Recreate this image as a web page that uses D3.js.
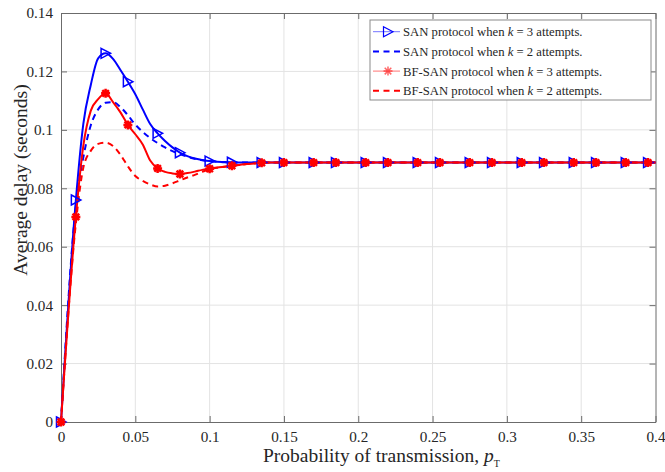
<!DOCTYPE html>
<html lang="en">
<head>
    <meta charset="UTF-8">
    <title>Average delay</title>
    <script src="https://d3js.org/d3.v7.min.js"></script>
    <style>
        body { margin: 0; background: #fff; }
        text { font-family: "Liberation Serif", "Times New Roman", serif; fill: #262626; }
        .grid line { stroke: #e3e3e3; stroke-width: 1px; }
        .axis path, .axis line { stroke: #6b6b6b; }
    </style>
</head>
<body>
<script>

    // x values (probability of transmission)
    var pT = [0, 0.01, 0.015, 0.02, 0.025, 0.03, 0.035, 0.04, 0.045, 0.05,
        0.055, 0.06, 0.065, 0.07, 0.075, 0.08, 0.085, 0.09, 0.095, 0.1,
        0.105, 0.11, 0.115, 0.12, 0.125, 0.13, 0.135, 0.14, 0.145, 0.15,
        0.17, 0.185, 0.205, 0.22, 0.24, 0.255, 0.275, 0.29, 0.31, 0.325,
        0.345, 0.36, 0.38, 0.395, 0.4];

    // SAN protocol, k = 3
    var sanK3 = [0, 0.076, 0.102, 0.1153, 0.1245, 0.1262, 0.1243, 0.1205, 0.1165, 0.1122,
        0.1070, 0.1020, 0.0988, 0.0962, 0.0940, 0.0922, 0.0910, 0.0902, 0.0897, 0.0893,
        0.0891, 0.0890, 0.0889, 0.0888, 0.0888, 0.0888, 0.0888, 0.0888, 0.0888, 0.0888,
        0.0888, 0.0888, 0.0888, 0.0888, 0.0888, 0.0888, 0.0888, 0.0888, 0.0888, 0.0888,
        0.0888, 0.0888, 0.0888, 0.0888, 0.0888];

    // SAN protocol, k = 2
    var sanK2 = [0, 0.074, 0.0905, 0.1015, 0.1070, 0.1093, 0.1095, 0.1078, 0.1050, 0.1018,
        0.0993, 0.0972, 0.0955, 0.0940, 0.0927, 0.0917, 0.0908, 0.0901, 0.0896, 0.0893,
        0.0891, 0.0889, 0.0888, 0.0888, 0.0888, 0.0888, 0.0888, 0.0888, 0.0888, 0.0888,
        0.0888, 0.0888, 0.0888, 0.0888, 0.0888, 0.0888, 0.0888, 0.0888, 0.0888, 0.0888,
        0.0888, 0.0888, 0.0888, 0.0888, 0.0888];

    // BF-SAN protocol, k = 3
    var bfK3 = [0, 0.0702, 0.0945, 0.1065, 0.1105, 0.1125, 0.1095, 0.1060, 0.1017, 0.0985,
        0.0950, 0.0895, 0.0868, 0.0856, 0.0851, 0.0849, 0.0852, 0.0857, 0.0863, 0.0867,
        0.0871, 0.0874, 0.0877, 0.0880, 0.0883, 0.0885, 0.0887, 0.0888, 0.0888, 0.0888,
        0.0888, 0.0888, 0.0888, 0.0888, 0.0888, 0.0888, 0.0888, 0.0888, 0.0888, 0.0888,
        0.0888, 0.0888, 0.0888, 0.0888, 0.0888];

    // BF-SAN protocol, k = 2
    var bfK2 = [0, 0.068, 0.0870, 0.0928, 0.0952, 0.0956, 0.0945, 0.0915, 0.0875, 0.0842,
        0.0825, 0.0813, 0.0806, 0.0809, 0.0817, 0.0827, 0.0837, 0.0846, 0.0856, 0.0865,
        0.0870, 0.0874, 0.0877, 0.0880, 0.0883, 0.0885, 0.0887, 0.0888, 0.0888, 0.0888,
        0.0888, 0.0888, 0.0888, 0.0888, 0.0888, 0.0888, 0.0888, 0.0888, 0.0888, 0.0888,
        0.0888, 0.0888, 0.0888, 0.0888, 0.0888];

    // where the markers sit
    var markerPT = [0, 0.01, 0.03, 0.045, 0.065, 0.08, 0.1, 0.115, 0.135, 0.15,
        0.17, 0.185, 0.205, 0.22, 0.24, 0.255, 0.275, 0.29, 0.31, 0.325,
        0.345, 0.36, 0.38, 0.395];

    var xTicks = [0, 0.05, 0.1, 0.15, 0.2, 0.25, 0.3, 0.35, 0.4];
    var yTicks = [0, 0.02, 0.04, 0.06, 0.08, 0.1, 0.12, 0.14];

    var legendLabels = ["SAN protocol when ", "SAN protocol when ",
        "BF-SAN protocol when ", "BF-SAN protocol when "];
    var legendK = ["3", "2", "3", "2"];

    var series = [
        {vals: sanK3, color: "#0000ff", dash: null, marker: "tri"},
        {vals: sanK2, color: "#0000ff", dash: "6,4.5", marker: null},
        {vals: bfK3, color: "#ff0000", dash: null, marker: "star"},
        {vals: bfK2, color: "#ff0000", dash: "6,4.5", marker: null}
    ];

    var W = 665, H = 472;
    var margin = {top: 13, right: 9.5, bottom: 50, left: 61},
        width = W - margin.left - margin.right,
        height = H - margin.top - margin.bottom;

    var x = d3.scaleLinear().domain([0, 0.4]).range([0, width]);
    var y = d3.scaleLinear().domain([0, 0.14]).range([height, 0]);

    var svg = d3.select("body").append("svg")
        .attr("width", W).attr("height", H);
    var g = svg.append("g")
        .attr("transform", "translate(" + margin.left + "," + margin.top + ")");

    // grid
    var grid = g.append("g").attr("class", "grid");
    grid.selectAll(".gx").data(xTicks.slice(1, -1)).enter().append("line")
        .attr("x1", function(d) { return x(d); }).attr("x2", function(d) { return x(d); })
        .attr("y1", 0).attr("y2", height);
    grid.selectAll(".gy").data(yTicks.slice(1, -1)).enter().append("line")
        .attr("y1", function(d) { return y(d); }).attr("y2", function(d) { return y(d); })
        .attr("x1", 0).attr("x2", width);

    // axes (ticks point inward, box on)
    var fmt = function(d) { return d3.format("")(+d.toFixed(2)); };
    var xAxis = g.append("g").attr("class", "axis")
        .attr("transform", "translate(0," + height + ")")
        .call(d3.axisBottom(x).tickValues(xTicks).tickSizeInner(-6).tickSizeOuter(0).tickPadding(12).tickFormat(fmt));
    var yAxis = g.append("g").attr("class", "axis")
        .call(d3.axisLeft(y).tickValues(yTicks).tickSizeInner(-6).tickSizeOuter(0).tickPadding(8).tickFormat(fmt));
    g.append("g").attr("class", "axis")
        .call(d3.axisTop(x).tickValues(xTicks).tickSizeInner(-6).tickSizeOuter(0).tickFormat(""));
    g.append("g").attr("class", "axis")
        .attr("transform", "translate(" + width + ",0)")
        .call(d3.axisRight(y).tickValues(yTicks).tickSizeInner(-6).tickSizeOuter(0).tickFormat(""));
    g.selectAll(".axis text").style("font-size", "15.2px").attr("fill", "#262626");
    xAxis.selectAll("text").attr("dy", "0.55em");

    // lines
    var line = d3.line()
        .x(function(d, i) { return x(pT[i]); })
        .y(function(d) { return y(d); })
        .curve(d3.curveMonotoneX);

    series.forEach(function(s) {
        g.append("path")
            .datum(s.vals)
            .attr("fill", "none")
            .attr("stroke", s.color)
            .attr("stroke-width", 2)
            .attr("stroke-dasharray", s.dash)
            .attr("d", line);
    });

    function drawMarker(sel, type, color) {
        if (type === "tri") {
            sel.append("path")
                .attr("d", "M-4.5,-5L5,0L-4.5,5Z")
                .attr("fill", "none").attr("stroke", color).attr("stroke-width", 1.5);
        } else if (type === "star") {
            sel.append("path")
                .attr("d", "M-4.5,0H4.5M0,-4.5V4.5M-3.3,-3.3L3.3,3.3M-3.3,3.3L3.3,-3.3")
                .attr("fill", "none").attr("stroke", color).attr("stroke-width", 2.5);
        }
    }

    // markers
    series.forEach(function(s) {
        if (!s.marker) return;
        markerPT.forEach(function(p) {
            var i = pT.indexOf(p);
            var m = g.append("g")
                .attr("transform", "translate(" + x(pT[i]) + "," + y(s.vals[i]) + ")");
            drawMarker(m, s.marker, s.color);
        });
    });

    // legend
    var leg = svg.append("g").attr("transform", "translate(370,20)");
    leg.append("rect").attr("width", 281).attr("height", 80)
        .attr("fill", "#fff").attr("stroke", "#8a8a8a").attr("stroke-width", 1);
    series.forEach(function(s, i) {
        var row = leg.append("g").attr("transform", "translate(0," + (11.7 + i * 19.7) + ")");
        row.append("line").attr("x1", 3).attr("x2", 30)
            .attr("stroke", s.color)
            .attr("stroke-width", s.dash ? 2 : 1)
            .attr("stroke-opacity", s.dash ? 1 : 0.55)
            .attr("stroke-dasharray", s.dash);
        if (s.marker) {
            var m = row.append("g").attr("transform", "translate(18,0)");
            drawMarker(m, s.marker, s.color);
            m.attr("opacity", s.marker === "star" ? 0.6 : 1);
            m.selectAll("path").attr("stroke-width", s.marker === "star" ? 1.5 : 1.2);
        }
        var t = row.append("text").attr("x", 33).attr("dy", "0.35em").style("font-size", "12.7px");
        t.append("tspan").text(legendLabels[i]);
        t.append("tspan").attr("font-style", "italic").text("k");
        t.append("tspan").text(" = " + legendK[i] + " attempts.");
    });

    // axis labels
    var xl = svg.append("text").attr("x", 263).attr("y", 462).style("font-size", "19.5px");
    xl.append("tspan").text("Probability of transmission, ");
    xl.append("tspan").attr("font-style", "italic").text("p");
    xl.append("tspan").attr("dy", 5).style("font-size", "10px").text("T");

    svg.append("text")
        .attr("transform", "translate(27,180) rotate(-90)")
        .attr("text-anchor", "middle")
        .style("font-size", "19.5px")
        .text("Average delay (seconds)");

</script>
</body>
</html>
